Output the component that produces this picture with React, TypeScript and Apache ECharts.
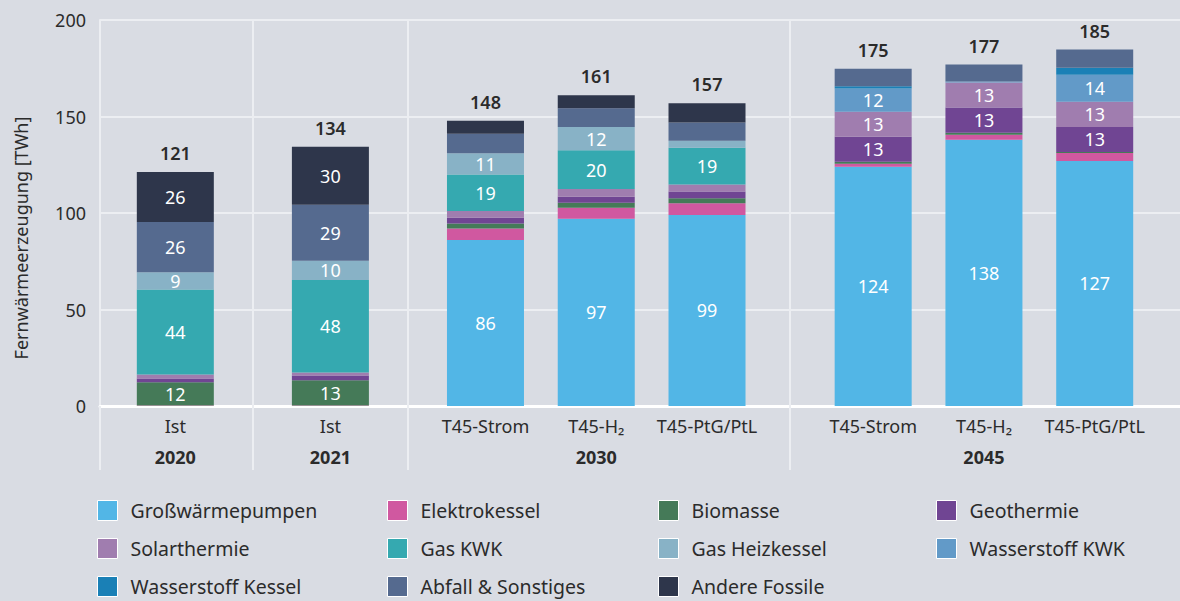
import React, { useEffect, useRef } from 'react';
import * as echarts from 'echarts';

// ---- Data ----
const scenarios = ['Ist', 'Ist', 'T45-Strom', 'T45-H₂', 'T45-PtG/PtL', 'T45-Strom', 'T45-H₂', 'T45-PtG/PtL'];
const slotPositions = [0, 1.4, 2.8, 3.8, 4.8, 6.3, 7.3, 8.3];
const years = ['2020', '2021', '2030', '2045'];
const yearPositions = [0, 1.4, 3.8, 7.3];
const groupSeparators = [0.7, 2.1, 5.55];

const seriesNames = [
  'Großwärmepumpen', 'Elektrokessel', 'Biomasse', 'Geothermie',
  'Solarthermie', 'Gas KWK', 'Gas Heizkessel', 'Wasserstoff KWK',
  'Wasserstoff Kessel', 'Abfall & Sonstiges', 'Andere Fossile',
];

const grosswaermepumpen = [0, 0, 86, 97, 99, 124, 138, 127];
const elektrokessel = [0.3, 0.3, 6, 5.7, 6, 1.5, 2.6, 4.1];
const biomasse = [12, 13, 2.5, 2.6, 2.6, 1, 1, 0.5];
const geothermie = [2, 2.5, 3, 3.1, 3.6, 13, 13, 13];
const solarthermie = [2, 1.5, 3.5, 4.1, 3.6, 13, 13, 13];
const gasKwk = [44, 48, 19, 20, 19, 0, 0, 0];
const gasHeizkessel = [9, 10, 11, 12, 3.6, 0, 0, 0];
const wasserstoffKwk = [0, 0, 0, 0, 0, 12, 0.5, 14];
const wasserstoffKessel = [0, 0, 0, 0, 0, 1.2, 0, 3.6];
const abfallSonstiges = [26, 29, 10, 9.8, 9.5, 9, 8.8, 9.5];
const andereFossile = [26, 30, 6.8, 6.7, 10, 0, 0, 0];

const seriesValues = [
  grosswaermepumpen, elektrokessel, biomasse, geothermie, solarthermie,
  gasKwk, gasHeizkessel, wasserstoffKwk, wasserstoffKessel, abfallSonstiges, andereFossile,
];

// minimum value for a segment label to be printed, per series
const minLabelValue = [8.5, 8.5, 8.5, 8.5, 8.5, 8.5, 8.5, 8.5, 8.5, 20, 20];

// ---- Styles ----
const colors = [
  '#52b6e6', '#d058a0', '#457a58', '#704593', '#a07daf', '#35a9b0',
  '#88b2c6', '#629ac8', '#1a80b6', '#556a8f', '#2e364b',
];
const bg = '#d9dce3';
const gridColor = '#eceef2';
const textColor = '#2b2b2b';
const fontFamily = '"Noto Sans", sans-serif';

const totals = slotPositions.map((_, i) =>
  Math.round(seriesValues.reduce((acc, arr) => acc + arr[i], 0))
);

const findIndex = (arr: number[], v: number) => arr.findIndex((p) => Math.abs(p - v) < 1e-6);

export default function App() {
  const ref = useRef<HTMLDivElement>(null);

  useEffect(() => {
    const chart = echarts.init(ref.current as HTMLDivElement, undefined, { renderer: 'svg' });
    const xMin = -0.68;
    const xMax = 9.07;

    // data rows are [value, position] so that the value column is the stacked one
    const barSeries: any[] = seriesNames.map((name, s) => ({
      name,
      type: 'bar',
      stack: 'total',
      xAxisIndex: 0,
      barWidth: 77,
      encode: { x: 1, y: 0 },
      data: slotPositions.map((x, i) => [seriesValues[s][i], x]),
      itemStyle: { color: colors[s] },
      label: {
        show: true,
        position: 'inside',
        color: '#ffffff',
        fontSize: 18,
        fontFamily,
        formatter: (p: any) => (p.value[0] >= minLabelValue[s] ? String(Math.round(p.value[0])) : ''),
      },
      ...(s === 0
        ? {
            markLine: {
              silent: true,
              symbol: ['none', 'none'],
              label: { show: false },
              lineStyle: { color: gridColor, width: 2, type: 'solid' },
              data: groupSeparators.map((v) => ({ xAxis: v })),
            },
          }
        : {}),
    }));

    barSeries.push({
      name: 'Summe',
      type: 'bar',
      stack: 'total',
      xAxisIndex: 0,
      barWidth: 77,
      silent: true,
      encode: { x: 1, y: 0 },
      data: slotPositions.map((x) => [0, x]),
      itemStyle: { color: 'transparent' },
      label: {
        show: true,
        position: 'top',
        distance: 10,
        color: textColor,
        fontSize: 18,
        fontWeight: 600,
        fontFamily,
        formatter: (p: any) => String(totals[p.dataIndex]),
      },
    });

    const legendLefts = [97, 387, 658, 936];
    const legends = legendLefts.map((left, c) => ({
      data: seriesNames.filter((_, i) => i % 4 === c),
      orient: 'vertical',
      left,
      top: 500,
      padding: 0,
      itemWidth: 20,
      itemHeight: 20,
      itemGap: 17,
      icon: 'rect',
      selectedMode: false,
      itemStyle: { borderColor: '#ffffff', borderWidth: 1 },
      textStyle: { fontSize: 19.5, lineHeight: 20, color: textColor, fontFamily, padding: [0, 0, 0, 8] },
    }));

    chart.setOption({
      animation: false,
      backgroundColor: bg,
      textStyle: { fontFamily },
      grid: { left: 100, right: 0, top: 20, bottom: 195, containLabel: false },
      legend: legends,
      xAxis: [
        {
          type: 'value',
          min: xMin,
          max: xMax,
          position: 'bottom',
          axisLine: { show: true, onZero: false, lineStyle: { color: '#ffffff', width: 3 } },
          axisTick: { show: false },
          splitLine: { show: false },
          axisLabel: {
            customValues: slotPositions,
            formatter: (v: number) => scenarios[findIndex(slotPositions, v)] ?? '',
            fontSize: 18,
            color: textColor,
            fontFamily,
            margin: 11,
          },
        },
        {
          type: 'value',
          min: xMin,
          max: xMax,
          position: 'bottom',
          axisLine: { show: false, onZero: false },
          splitLine: { show: false },
          axisTick: {
            show: true,
            customValues: [xMin, ...groupSeparators],
            length: 64,
            lineStyle: { color: gridColor, width: 2 },
          },
          axisLabel: {
            customValues: yearPositions,
            formatter: (v: number) => years[findIndex(yearPositions, v)] ?? '',
            fontSize: 18,
            fontWeight: 'bold',
            color: textColor,
            fontFamily,
            margin: 42,
          },
        },
      ],
      yAxis: {
        type: 'value',
        min: 0,
        max: 200,
        interval: 50,
        axisLine: { show: true, onZero: false, lineStyle: { color: gridColor, width: 2 } },
        axisTick: { show: false },
        splitLine: { show: true, lineStyle: { color: gridColor, width: 2 } },
        axisLabel: { fontSize: 18, color: textColor, fontFamily, margin: 14 },
        name: 'Fernwärmeerzeugung [TWh]',
        nameLocation: 'middle',
        nameGap: 70,
        nameTextStyle: { fontSize: 18, color: textColor, fontFamily, padding: [0, 50, 0, 0] },
      },
      series: barSeries,
    });

    return () => chart.dispose();
  }, []);

  return (
    <div
      ref={ref}
      style={{ position: 'fixed', left: 0, top: 0, width: 1180, height: 601, background: bg }}
    />
  );
}
